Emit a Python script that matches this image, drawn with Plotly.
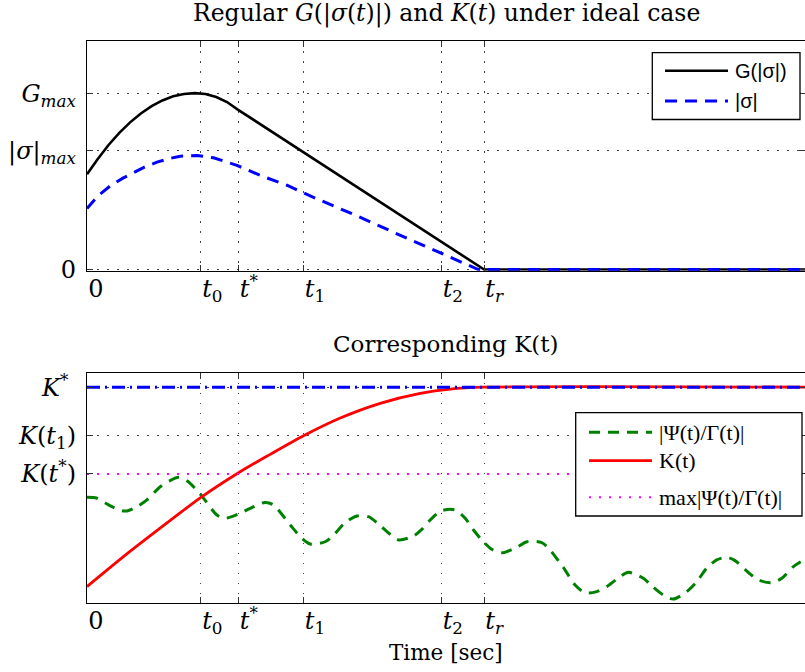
import plotly.graph_objects as go

# ---------------- data ----------------
tick_names_x = ["0", "<i>t</i><sub>0</sub>", "<i>t</i><sup>*</sup>", "<i>t</i><sub>1</sub>",
                "<i>t</i><sub>2</sub>", "<i>t</i><sub><i>r</i></sub>"]
tick_vals_x = [0, 1.587, 2.111, 3.016, 4.937, 5.531]

top_ytick_vals = [0, 0.520, 0.772]
top_ytick_text = ["0", "|<i>σ</i>|<sub><i>max</i></sub>", "<i>G</i><sub><i>max</i></sub>"]

t_G = [0, 0.15, 0.3, 0.45, 0.6, 0.75, 0.9, 1.05, 1.2, 1.35, 1.5, 1.65, 1.8, 1.95, 2.1,
       2.4, 3.0, 4.0, 5.0, 5.531, 10]
G_vals = [0.417, 0.484, 0.545, 0.598, 0.644, 0.683, 0.715, 0.740, 0.758, 0.768, 0.772,
          0.768, 0.755, 0.733, 0.700, 0.639, 0.515, 0.313, 0.108, 0.0, 0.0]

t_sig = [0, 0.15, 0.324, 0.5, 0.649, 0.8, 0.974, 1.15, 1.299, 1.531, 1.763, 2.088, 2.436,
         2.784, 3.109, 3.781, 4.455, 4.826, 5.151, 5.45, 10]
sig_vals = [0.267, 0.322, 0.366, 0.400, 0.424, 0.448, 0.470, 0.486, 0.496, 0.499, 0.489,
            0.456, 0.409, 0.369, 0.322, 0.232, 0.137, 0.086, 0.039, 0.0, 0.0]

bot_ytick_vals = [0.560, 0.726, 0.937]
bot_ytick_text = ["<i>K</i>(<i>t</i><sup>*</sup>)", "<i>K</i>(<i>t</i><sub>1</sub>)",
                  "<i>K</i><sup>*</sup>&nbsp;"]

t_K = [0, 0.603, 1.160, 1.587, 2.111, 2.552, 3.016, 3.527, 4.084, 4.641, 5.059, 5.531, 10]
K_vals = [0.070, 0.224, 0.358, 0.458, 0.565, 0.645, 0.726, 0.803, 0.867, 0.910, 0.929,
          0.937, 0.937]

t_psi = [0, 0.139, 0.300, 0.487, 0.557, 0.700, 0.835, 1.020, 1.150, 1.276, 1.392, 1.577, 1.810,
         1.925, 2.134, 2.273, 2.482, 2.598, 2.830, 2.993, 3.109, 3.318, 3.433, 3.596, 3.759,
         3.920, 4.060, 4.222, 4.338, 4.547, 4.663, 4.803, 4.942, 5.127, 5.267, 5.383, 5.499,
         5.638, 5.777, 5.986, 6.126, 6.334, 6.450, 6.589, 6.659, 6.798, 6.937, 7.100, 7.239,
         7.425, 7.540, 7.749, 7.865, 8.027, 8.166, 8.353, 8.492, 8.631, 8.770, 8.910, 9.025,
         9.234, 9.350, 9.536, 9.676, 9.838, 10.0]
psi_vals = [0.458, 0.454, 0.425, 0.400, 0.399, 0.418, 0.447, 0.504, 0.530, 0.545, 0.530, 0.473,
            0.381, 0.367, 0.389, 0.410, 0.436, 0.425, 0.338, 0.280, 0.255, 0.265, 0.294, 0.348,
            0.377, 0.374, 0.342, 0.297, 0.273, 0.290, 0.319, 0.367, 0.400, 0.403, 0.367, 0.316,
            0.273, 0.232, 0.217, 0.241, 0.265, 0.261, 0.229, 0.172, 0.142, 0.077, 0.043, 0.048,
            0.070, 0.113, 0.132, 0.106, 0.073, 0.033, 0.016, 0.048, 0.091, 0.150, 0.186, 0.197,
            0.183, 0.125, 0.099, 0.087, 0.106, 0.157, 0.189]

t_const = [0, 10]
K_star = [0.937, 0.937]
psi_max = [0.560, 0.560]

top_legend_names = ["G(|σ|)", "|σ|"]
bot_legend_names = ["|Ψ(t)/Γ(t)|", "K(t)", "max|Ψ(t)/Γ(t)|"]

# ---------------- figure ----------------
W, H = 805, 672
ML, MR = 87, 0
PW = W - ML - MR


def px(xp):
    return (xp - ML) / PW


def py(yp):
    return 1 - yp / H


st_G = dict(color="black", width=2.6)
st_sig = dict(color="#0000ff", width=3, dash="12px,8px")
st_psi = dict(color="#008000", width=3, dash="11px,8px")
st_K = dict(color="#ff0000", width=2.8)
st_max = dict(color="#ff00ff", width=2, dash="2px,8px")
st_Ks = dict(color="#0000ff", width=3, dash="13px,5px,2px,5px")

fig = go.Figure()
fig.add_trace(go.Scatter(x=t_G, y=G_vals, mode="lines", name=top_legend_names[0],
                         line=st_G, xaxis="x", yaxis="y"))
fig.add_trace(go.Scatter(x=t_sig, y=sig_vals, mode="lines", name=top_legend_names[1],
                         line=st_sig, xaxis="x", yaxis="y"))
fig.add_trace(go.Scatter(x=t_psi, y=psi_vals, mode="lines", name=bot_legend_names[0],
                         line=dict(st_psi, shape="spline", smoothing=0.8), xaxis="x2", yaxis="y2"))
fig.add_trace(go.Scatter(x=t_K, y=K_vals, mode="lines", name=bot_legend_names[1],
                         line=dict(st_K, shape="spline", smoothing=0.8), xaxis="x2", yaxis="y2"))
fig.add_trace(go.Scatter(x=t_const, y=psi_max, mode="lines", name=bot_legend_names[2],
                         line=st_max, xaxis="x2", yaxis="y2"))
fig.add_trace(go.Scatter(x=t_const, y=K_star, mode="lines", name="K*",
                         line=st_Ks, xaxis="x2", yaxis="y2"))

serif = "DejaVu Serif"
tickfont = dict(family=serif, size=24, color="black")

common_x = dict(range=[0, 10], tickmode="array", tickvals=tick_vals_x, ticktext=tick_names_x,
                ticks="inside", ticklen=6, tickcolor="#333", showline=True, linecolor="black",
                linewidth=1.4, mirror="ticks", showgrid=True, gridcolor="#444",
                griddash="1.5px,8.5px", gridwidth=1, zeroline=False, tickfont=tickfont,
                ticklabelposition="outside right", ticklabelstandoff=-4, automargin=False)
common_y = dict(tickmode="array", ticks="inside", ticklen=6, tickcolor="#333",
                showline=True, linecolor="black", linewidth=1.4, mirror="ticks", showgrid=True,
                gridcolor="#444", griddash="1.5px,8.5px", gridwidth=1, zeroline=False,
                tickfont=tickfont, ticklabelstandoff=5, automargin=False)

top_dom = [py(270.7), py(41)]
bot_dom = [py(602.7), py(372.7)]

fig.update_layout(
    width=W, height=H, autosize=False,
    margin=dict(l=ML, r=MR, t=0, b=0, pad=0, autoexpand=False),
    paper_bgcolor="white", plot_bgcolor="white",
    showlegend=False,
    xaxis=dict(common_x, domain=[0, 1], anchor="y"),
    # range starts a hair below 0 so the thick zero segments are not clipped
    yaxis=dict(common_y, domain=top_dom, anchor="x", range=[-0.005, 1],
               tickvals=top_ytick_vals, ticktext=top_ytick_text),
    xaxis2=dict(common_x, domain=[0, 1], anchor="y2"),
    yaxis2=dict(common_y, domain=bot_dom, anchor="x2", range=[0, 1],
                tickvals=bot_ytick_vals, ticktext=bot_ytick_text),
)

# ---- hand-drawn legends (boxes, line samples, labels) ----
shapes = []
annos = []


def legend_box(x0, x1, y0, y1):
    shapes.append(dict(type="rect", xref="paper", yref="paper", x0=px(x0), x1=px(x1),
                       y0=py(y1), y1=py(y0), line=dict(color="black", width=1.3),
                       fillcolor="white", layer="above"))


def legend_item(xs0, xs1, yc, style, text, font):
    shapes.append(dict(type="line", xref="paper", yref="paper", x0=px(xs0), x1=px(xs1),
                       y0=py(yc), y1=py(yc), line=style, layer="above"))
    annos.append(dict(text=text, x=px(xs1 + 5), y=py(yc), xref="paper", yref="paper",
                      xanchor="left", yanchor="middle", showarrow=False, font=font))


legend_box(652.3, 800, 52.7, 119.5)
sans_font = dict(family="Liberation Sans", size=20, color="black")
legend_item(665, 728, 70.7, st_G, top_legend_names[0], sans_font)
legend_item(665, 728, 101, st_sig, top_legend_names[1], sans_font)

legend_box(575.7, 802, 412.7, 516)
lser_font = dict(family="Liberation Serif", size=22, color="black")
legend_item(589, 652, 432.3, st_psi, bot_legend_names[0], lser_font)
legend_item(589, 652, 460.7, st_K, bot_legend_names[1], lser_font)
legend_item(589, 652, 497.3, st_max, bot_legend_names[2], lser_font)

titles = [
    ("Regular <i>G</i>(|<i>σ</i>(<i>t</i>)|) and <i>K</i>(<i>t</i>) under ideal case", 13, 23.5),
    ("Corresponding K(t)", 344, 23),
    ("Time [sec]", 652, 21.5),
]
for txt, yc, fs in titles:
    annos.append(dict(text=txt, x=px(446), y=py(yc), xref="paper", yref="paper",
                      xanchor="center", yanchor="middle", showarrow=False,
                      font=dict(family=serif, size=fs, color="black")))

fig.update_layout(shapes=shapes, annotations=annos)
fig.write_html("out.html")
